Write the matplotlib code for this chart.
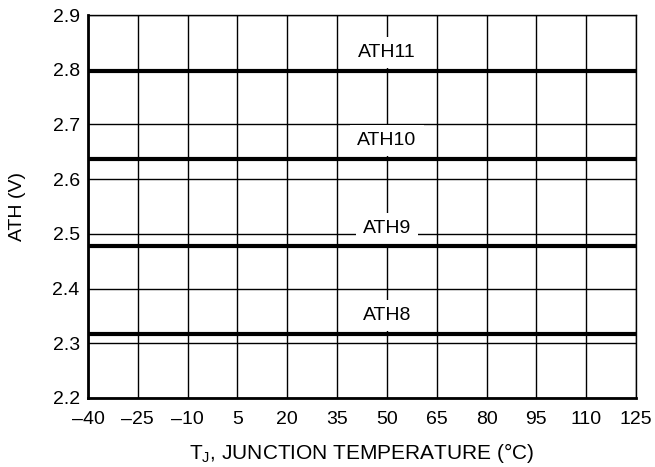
import matplotlib.pyplot as plt

temps = [-40, -25, -10, 5, 20, 35, 50, 65, 80, 95, 110, 125]
tick_labels = ["\u201340", "\u201325", "\u201310", "5", "20", "35", "50", "65", "80", "95", "110", "125"]
ath_names = ["ATH11", "ATH10", "ATH9", "ATH8"]
ath_values = [2.797, 2.637, 2.477, 2.317]
label_y = [2.832, 2.670, 2.509, 2.350]
label_x = 50

plt.rcParams['font.family'] = ['Liberation Sans', 'DejaVu Sans']

fig = plt.figure(figsize=(6.55, 4.67), dpi=100)
ax = fig.add_axes([88/655, 1 - 398/467, 548/655, 383/467])

for v in ath_values:
    ax.plot([temps[0], temps[-1]], [v, v], color='black', lw=3, solid_capstyle='butt', zorder=3)

for name, y in zip(ath_names, label_y):
    ax.text(label_x, y, name, ha='center', va='center', fontsize=14, zorder=2.5,
            bbox=dict(facecolor='white', edgecolor='none', pad=5))

ax.set_xlim(-40, 125)
ax.set_ylim(2.2, 2.9)
ax.set_xticks(temps)
ax.set_xticklabels(tick_labels)
ax.set_yticks([2.2, 2.3, 2.4, 2.5, 2.6, 2.7, 2.8, 2.9])
ax.set_yticklabels(["2.2", "2.3", "2.4", "2.5", "2.6", "2.7", "2.8", "2.9"])
ax.grid(True, color='black', lw=1)
ax.set_axisbelow(True)
ax.tick_params(length=0, labelsize=14)
ax.tick_params(axis='x', pad=9)
ax.tick_params(axis='y', pad=6)

ax.spines['left'].set_linewidth(2)
ax.spines['bottom'].set_linewidth(2)
ax.spines['top'].set_linewidth(1)
ax.spines['right'].set_linewidth(1)

ax.set_ylabel("ATH (V)", fontsize=14, va='center', ha='center')
ax.yaxis.set_label_coords(-70/548, 0.5)
ax.set_xlabel("T$_\\mathregular{J}$, JUNCTION TEMPERATURE (\u00b0C)", fontsize=15, va='center')
ax.xaxis.set_label_coords(0.5, -55/383)

fig.savefig("out.png", dpi=100)
